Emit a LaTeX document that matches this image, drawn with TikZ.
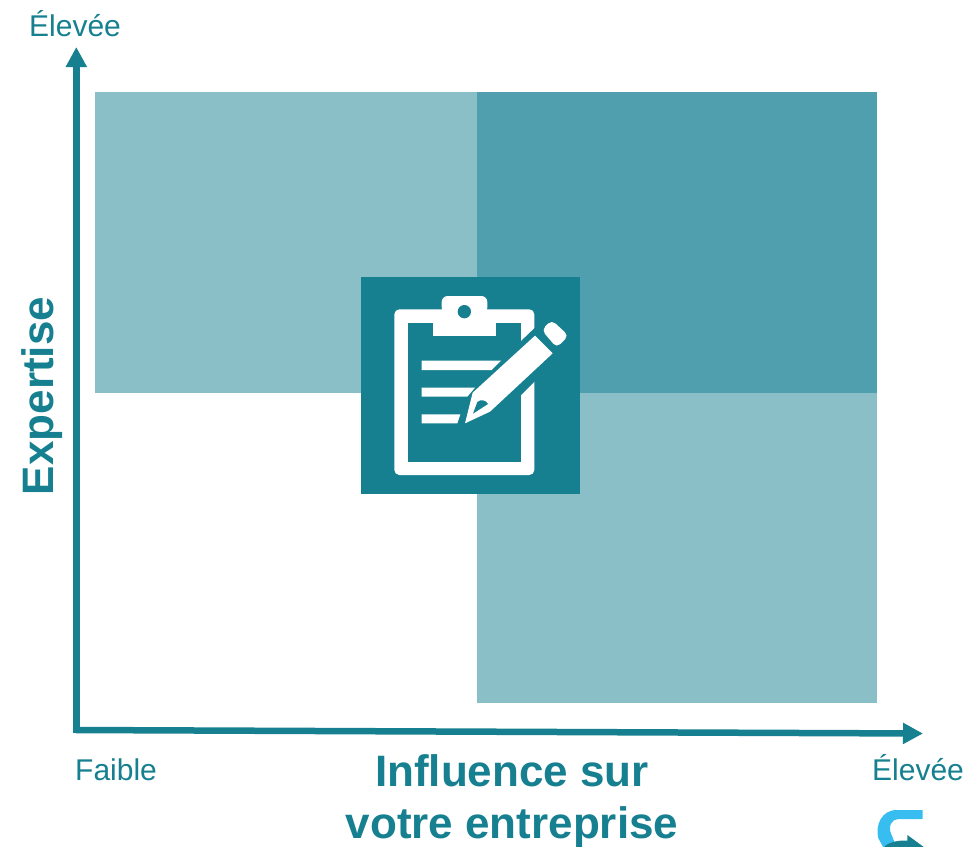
\documentclass[tikz,border=0pt]{standalone}
\usepackage{fontspec}
\setmainfont{Liberation Sans}
\usetikzlibrary{arrows.meta}
\definecolor{teal}{HTML}{168090}
\definecolor{lightq}{HTML}{8BBFC8}
\definecolor{midq}{HTML}{4F9FAE}
\definecolor{logoblue}{HTML}{38BDF0}
\tikzset{
  axisline/.style={draw=teal,line width=6.5pt,-{Triangle[length=20pt,width=20pt]}},
  lab/.style={text=teal,font=\fontsize{30}{30}\selectfont,anchor=base west,inner sep=0pt},
  title/.style={text=teal,font=\fontsize{44}{44}\selectfont\bfseries,inner sep=0pt,anchor=base},
  quad/.style={fill=#1,draw=none}
}
\begin{document}
\begin{tikzpicture}[x=1pt,y=-1pt]
\path[use as bounding box] (0,0) rectangle (968,846);
\clip (0,0) rectangle (968,846);
% quadrants
\fill[quad=lightq] (95,92) rectangle (477,393);
\fill[quad=midq] (477,92) rectangle (877,393);
\fill[quad=lightq] (477,393) rectangle (877,703);
% axes
\coordinate (ybase) at (76.3,733);
\coordinate (ytop) at (76.3,47);
\coordinate (xstart) at (76,730);
\coordinate (xend) at (923,733.5);
\draw[axisline] (ybase) -- (ytop);
\draw[axisline] (xstart) -- (xend);
% labels
\node[lab] (eleveeY) at (29,36) {Élevée};
\node[lab] (faible) at (75,780) {Faible};
\node[lab] (eleveeX) at (872,780) {Élevée};
\node[title] (infl) at (512,786) {Influence sur};
\node[title] (votre) at (512,838) {votre entreprise};
\node[title,rotate=90] (expertise) at (53,396) {Expertise};
% icon
\fill[teal] (361,277) rectangle (580,494);
\begin{scope}[shift={(350,270)},x=0.33333pt,y=-0.33333pt]
  % clipboard
  \fill[white,rounded corners=5pt]
    (133,118) -- (553,118) -- (553,615) -- (133,615) -- cycle;
  \fill[teal] (175,158) rectangle (513,575);
  % clip
  \fill[white,rounded corners=6pt] (275,130) -- (275,78) -- (412,78) -- (412,130) -- cycle;
  \fill[white] (248,120) rectangle (438,198);
  \fill[teal] (343,125) circle[radius=20];
  % gap in right side
  \fill[teal] (510,216) -- (556,172) -- (560,172) -- (560,332) -- (556,332) -- (510,378) -- cycle;
  % lines
  \fill[white] (215,272) -- (453,272) -- (425,300) -- (215,300) -- cycle;
  \fill[white] (215,353) -- (375,353) -- (352,380) -- (215,380) -- cycle;
  \fill[white] (215,433) -- (331,433) -- (322,460) -- (215,460) -- cycle;
  % pencil
  \fill[white] (345,460) -- (368,368) -- (555,197) -- (608,250) -- (420,425) -- cycle;
  \fill[teal] (369,431) -- (382,396) .. controls (392,387) and (408,390) .. (414,402) -- cycle;
  \fill[white,rounded corners=5pt] (575,180) -- (605,150) -- (656,197) -- (620,233) -- cycle;
\end{scope}
% logo
\begin{scope}[shift={(850,710)},x=0.33333pt,y=-0.33333pt]
  \fill[logoblue] (218,300) -- (140,300) .. controls (95,300) and (75,345) .. (85,385)
    -- (100,412) -- (140,412) -- (125,375) .. controls (112,350) and (125,327) .. (145,327) -- (218,327) -- cycle;
  \fill[teal] (172,375) -- (220,410) -- (220,430) -- (105,430) -- (105,408) .. controls (120,395) and (150,390) .. (172,392) -- cycle;
\end{scope}
\end{tikzpicture}
\end{document}
